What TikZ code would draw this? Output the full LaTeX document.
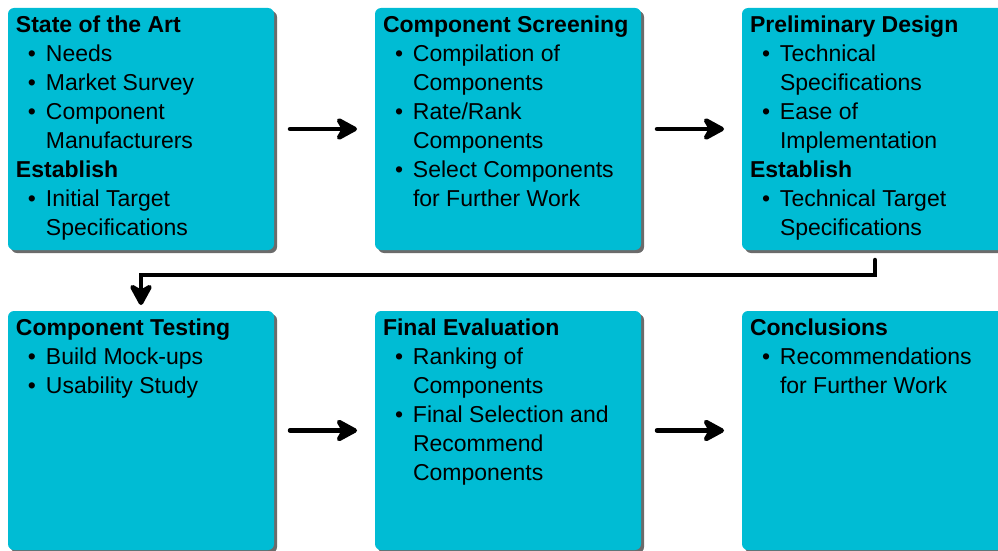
\documentclass[tikz,border=0pt]{standalone}
\usepackage{fontspec}
\setmainfont{Liberation Sans}
\usepackage{tikz}
\usetikzlibrary{arrows.meta,positioning,shadows,calc}
\usepackage{xcolor}
\definecolor{boxcyan}{HTML}{00BCD4}
\definecolor{boxshadow}{HTML}{6B6B6B}

% bullet line and box text
\newcommand{\itm}[1]{\par\hangindent=30pt\hangafter=1\hspace*{12pt}\makebox[18pt][l]{\textbullet}#1}
\newcommand{\hd}[1]{\par\noindent\textbf{#1}}
\newcommand{\boxtext}[2]{\begin{minipage}[t][#1][t]{250pt}\raggedright\parindent=0pt\fontsize{23}{29}\selectfont #2\end{minipage}}

\begin{document}
\begin{tikzpicture}[
  node distance=61pt and 101pt,
  box/.style={fill=boxcyan, rounded corners=6pt, inner sep=8pt, outer sep=0pt,
    drop shadow={shadow xshift=3pt, shadow yshift=-3pt, fill=boxshadow, opacity=1}},
  arr/.style={-{Stealth[length=26pt, width=28pt, inset=8pt, round]}, line width=4.5pt, line cap=round},
  harr/.style={arr, shorten <=16pt, shorten >=18pt},
]
  \useasboundingbox (0,0) rectangle (998pt,-551pt);

  % Top row
  \node[box, anchor=north west] (art) at (8pt,-8pt) {\boxtext{226pt}{%
    \hd{State of the Art}
    \itm{Needs}
    \itm{Market Survey}
    \itm{Component\newline Manufacturers}
    \hd{Establish}
    \itm{Initial Target\newline Specifications}}};
  \node[box, right=of art] (screen) {\boxtext{226pt}{%
    \hd{Component Screening}
    \itm{Compilation of\newline Components}
    \itm{Rate/Rank\newline Components}
    \itm{Select Components\newline for Further Work}}};
  \node[box, right=of screen] (prelim) {\boxtext{226pt}{%
    \hd{Preliminary Design}
    \itm{Technical\newline Specifications}
    \itm{Ease of\newline Implementation}
    \hd{Establish}
    \itm{Technical Target\newline Specifications}}};

  % Bottom row
  \node[box, below=of art] (testing) {\boxtext{223pt}{%
    \hd{Component Testing}
    \itm{Build Mock-ups}
    \itm{Usability Study}}};
  \node[box, right=of testing] (final) {\boxtext{223pt}{%
    \hd{Final Evaluation}
    \itm{Ranking of\newline Components}
    \itm{Final Selection and\newline Recommend\newline Components}}};
  \node[box, right=of final] (concl) {\boxtext{223pt}{%
    \hd{Conclusions}
    \itm{Recommendations\newline for Further Work}}};

  % Arrows
  \draw[harr] (art) -- (screen);
  \draw[harr] (screen) -- (prelim);
  \draw[harr] (testing) -- (final);
  \draw[harr] (final) -- (concl);

  \coordinate (turn) at ($(prelim.south)+(0,-25pt)$);
  \draw[arr, shorten <=10pt, shorten >=6pt] (prelim.south) -- (turn) -| (testing.north);
\end{tikzpicture}
\end{document}
